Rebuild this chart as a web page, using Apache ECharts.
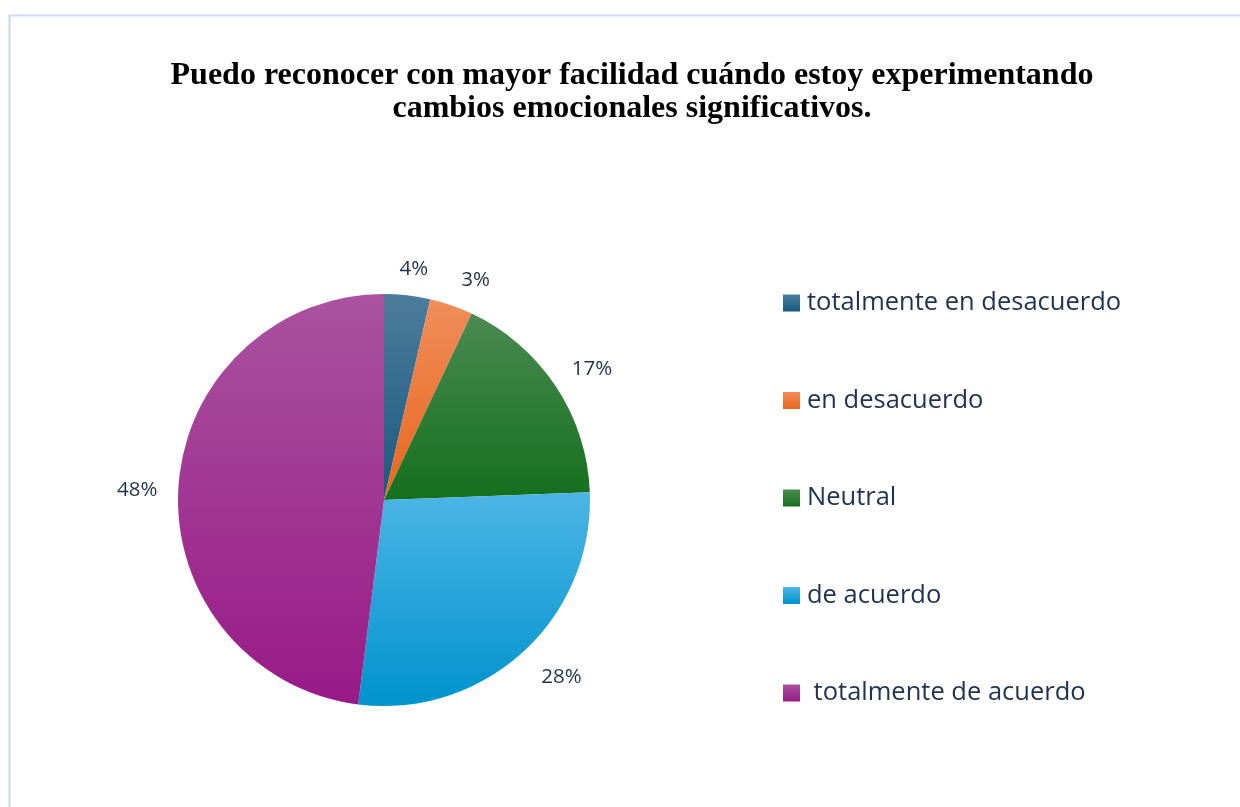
<!DOCTYPE html>
<html>
<head>
<meta charset="utf-8">
<script src="https://cdn.jsdelivr.net/npm/echarts@6/dist/echarts.min.js"></script>
<style>
  html, body { margin: 0; padding: 0; background: #fff; }
  #main { width: 1240px; height: 807px; }
</style>
</head>
<body>
<div id="main"></div>
<script>
// datos
var categorias = ['totalmente en desacuerdo', 'en desacuerdo', 'Neutral', 'de acuerdo', ' totalmente de acuerdo'];
var porcentajes = [3.6, 3.4, 17.4, 27.6, 48.0];
var etiquetas = ['4%', '3%', '17%', '28%', '48%'];

// colores con degradado (arriba claro, abajo oscuro)
var coloresArriba = ['#4d7c9c', '#f08d5a', '#4b8a52', '#4cb5e6', '#aa52a0'];
var coloresAbajo = ['#195a80', '#e8661c', '#14701d', '#0093cd', '#981a87'];
// ajuste fino de las etiquetas (como las coloca excel)
var desplazamientos = [[-20, -14], [-5, -14], [-5, -11], [-1, 16], [2, 4]];

function degradado(i) {
  return new echarts.graphic.LinearGradient(0, 0, 0, 1, [
    {offset: 0, color: coloresArriba[i]},
    {offset: 1, color: coloresAbajo[i]}
  ]);
}

var datos = categorias.map(function (e, i) {
  return {
    name: e,
    value: porcentajes[i],
    itemStyle: {color: degradado(i)},
    label: {offset: desplazamientos[i]}
  };
});

var myChart = echarts.init(document.getElementById('main'));

var option = {
  animation: false,
  graphic: [{
    type: 'rect',
    shape: {x: 9.5, y: 15.5, width: 1260, height: 820},
    style: {fill: 'none', stroke: '#c9daf0', lineWidth: 2},
    silent: true
  }],
  title: {
    text: 'Puedo reconocer con mayor facilidad cuándo estoy experimentando\ncambios emocionales significativos.',
    left: 627,
    top: 54,
    textAlign: 'center',
    textStyle: {
      fontFamily: 'Liberation Serif',
      fontWeight: 'bold',
      fontSize: 32,
      lineHeight: 33,
      color: '#000'
    }
  },
  legend: {
    orient: 'vertical',
    left: 783,
    top: 290,
    padding: 0,
    itemWidth: 17,
    itemHeight: 17,
    itemGap: 71.5,
    icon: 'rect',
    data: categorias,
    textStyle: {
      fontFamily: 'Open Sans',
      fontSize: 25.5,
      lineHeight: 24,
      color: '#1d3350',
      padding: [0, 0, 0, 2]
    }
  },
  series: [{
    name: 'respuestas',
    type: 'pie',
    center: [384, 500],
    radius: 206,
    startAngle: 90,
    avoidLabelOverlap: false,
    data: datos,
    itemStyle: {borderWidth: 0},
    label: {
      show: true,
      position: 'outside',
      formatter: function (p) { return etiquetas[p.dataIndex]; },
      fontFamily: 'Open Sans',
      fontSize: 20.5,
      color: '#1d3350'
    },
    labelLine: {show: false, length: 12, length2: 6},
    emphasis: {disabled: true}
  }]
};

myChart.setOption(option);
</script>
</body>
</html>
